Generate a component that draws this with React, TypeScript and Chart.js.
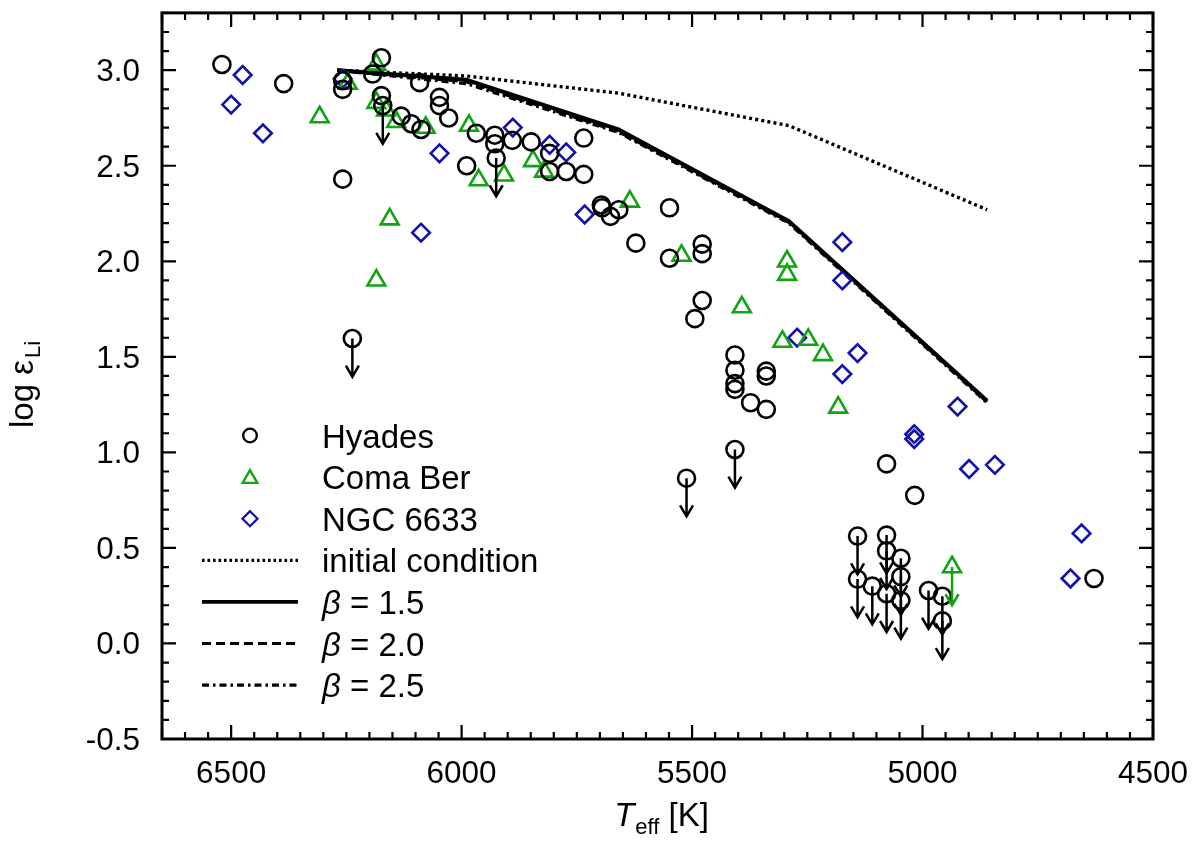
import { useEffect, useRef } from "react";
import { Chart, registerables } from "chart.js";
import type { ChartConfiguration, Plugin } from "chart.js";

Chart.register(...registerables);

const FONT = '"Liberation Sans", Arial, Helvetica, sans-serif';
const GREEN = "#12a312";
const BLUE = "#1212a8";

// [Teff, log eps(Li)]
const hyades: [number, number][] = [
  [6520, 3.03], [6386, 2.93], [6258, 2.945], [6258, 2.9], [6258, 2.43],
  [6193, 2.98], [6174, 3.065], [6174, 2.867], [6131, 2.76], [6109, 2.72],
  [6088, 2.69], [6091, 2.935], [6048, 2.858], [6048, 2.815], [6028, 2.75],
  [5989, 2.5], [5968, 2.67], [5928, 2.66], [5928, 2.615], [5890, 2.633],
  [5849, 2.625], [5809, 2.565], [5809, 2.47], [5773, 2.47], [5735, 2.645],
  [5735, 2.455], [5697, 2.295], [5695, 2.28], [5677, 2.235], [5659, 2.27],
  [5622, 2.095], [5549, 2.28], [5549, 2.016], [5478, 2.09], [5478, 2.04],
  [5478, 1.795], [5494, 1.7], [5407, 1.51], [5407, 1.43], [5407, 1.36],
  [5407, 1.33], [5373, 1.26], [5339, 1.425], [5339, 1.4], [5339, 1.225],
  [5078, 0.94], [5017, 0.775], [4628, 0.34],
];

// upper limits (drawn with a down arrow)
const hyadesUpper: [number, number][] = [
  [6171, 2.815], [5925, 2.54], [6237, 1.596], [5512, 0.865], [5407, 1.015],
  [5141, 0.562], [5141, 0.337], [5109, 0.3], [5078, 0.567], [5078, 0.485],
  [5078, 0.26], [5047, 0.446], [5047, 0.35], [5047, 0.225], [4987, 0.277],
  [4957, 0.247], [4957, 0.118],
];

const comaBer: [number, number][] = [
  [6185, 3.03], [6247, 2.93], [6308, 2.755], [6185, 2.83], [6164, 2.79],
  [6142, 2.73], [6078, 2.7], [5984, 2.71], [5963, 2.425], [5908, 2.45],
  [5845, 2.525], [5821, 2.47], [5635, 2.313], [6156, 2.22], [6185, 1.9],
  [5523, 2.03], [5294, 2.0], [5294, 1.93], [5392, 1.76], [5304, 1.58],
  [5248, 1.59], [5216, 1.51], [5183, 1.235],
];

const comaBerUpper: [number, number][] = [[4936, 0.4]];

const ngc6633: [number, number][] = [
  [6475, 2.975], [6500, 2.82], [6431, 2.67], [6258, 2.955], [6048, 2.565],
  [6088, 2.15], [5889, 2.7], [5809, 2.61], [5773, 2.57], [5733, 2.245],
  [5174, 2.1], [5174, 1.9], [5272, 1.6], [5141, 1.52], [5174, 1.41],
  [5018, 1.095], [5018, 1.07], [4924, 1.24], [4899, 0.913], [4843, 0.935],
  [4655, 0.576], [4679, 0.34],
];

// model curves
const modelTeff = [6270, 5990, 5660, 5290, 4860];
const initialLi = [3.0, 2.97, 2.88, 2.71, 2.27];
const beta15Li = [3.0, 2.95, 2.69, 2.21, 1.27];
const beta20Li = [3.0, 2.94, 2.68, 2.205, 1.265];
const beta25Li = [3.0, 2.93, 2.675, 2.2, 1.26];

const xTickValues = [6500, 6000, 5500, 5000, 4500];
const yTickValues = [-0.5, 0, 0.5, 1, 1.5, 2, 2.5, 3];
const legendLabels = ["Hyades", "Coma Ber", "NGC 6633", "initial condition", "β = 1.5", "β = 2.0", "β = 2.5"];

const ARROW_LEN = 0.2;

function drawText(
  ctx: CanvasRenderingContext2D,
  text: string,
  x: number,
  y: number,
  size: number,
  align: CanvasTextAlign,
  style = "",
) {
  ctx.save();
  ctx.font = `${style} ${size}px ${FONT}`;
  ctx.textAlign = align;
  ctx.textBaseline = "alphabetic";
  ctx.fillText(text, x, y);
  ctx.restore();
}

function textWidth(ctx: CanvasRenderingContext2D, text: string, size: number, style = "") {
  ctx.save();
  ctx.font = `${style} ${size}px ${FONT}`;
  const w = ctx.measureText(text).width;
  ctx.restore();
  return w;
}

function marker(ctx: CanvasRenderingContext2D, kind: string, x: number, y: number, r: number) {
  ctx.beginPath();
  if (kind === "circle") {
    ctx.arc(x, y, r, 0, Math.PI * 2);
  } else if (kind === "triangle") {
    for (let i = 0; i < 3; i++) {
      const a = (i * 2 * Math.PI) / 3;
      const px = x + Math.sin(a) * r;
      const py = y - Math.cos(a) * r;
      if (i === 0) ctx.moveTo(px, py);
      else ctx.lineTo(px, py);
    }
    ctx.closePath();
  } else {
    ctx.moveTo(x, y - r);
    ctx.lineTo(x + r, y);
    ctx.lineTo(x, y + r);
    ctx.lineTo(x - r, y);
    ctx.closePath();
  }
  ctx.stroke();
}

const decorPlugin: Plugin<"scatter"> = {
  id: "decor",
  beforeDraw(chart) {
    const { ctx, width, height } = chart;
    ctx.save();
    ctx.fillStyle = "#fff";
    ctx.fillRect(0, 0, width, height);
    ctx.restore();
  },
  afterDatasetsDraw(chart) {
    const { ctx, scales } = chart;
    const xs = scales.x;
    const ys = scales.y;
    const arrow = (t: number, v: number, color: string) => {
      const px = xs.getPixelForValue(t);
      const p0 = ys.getPixelForValue(v);
      const p1 = ys.getPixelForValue(v - ARROW_LEN);
      ctx.beginPath();
      ctx.moveTo(px, p0);
      ctx.lineTo(px, p1);
      ctx.moveTo(px - 6.5, p1 - 11);
      ctx.lineTo(px, p1);
      ctx.lineTo(px + 6.5, p1 - 11);
      ctx.strokeStyle = color;
      ctx.stroke();
    };
    ctx.save();
    ctx.lineWidth = 2.5;
    ctx.lineCap = "butt";
    hyadesUpper.forEach(([t, v]) => arrow(t, v, "#000"));
    comaBerUpper.forEach(([t, v]) => arrow(t, v, GREEN));
    ctx.restore();
  },
  afterDraw(chart) {
    const { ctx, chartArea: a, scales } = chart;
    const xs = scales.x;
    const ys = scales.y;
    ctx.save();
    ctx.fillStyle = "#000";
    ctx.strokeStyle = "#000";

    // frame
    ctx.lineWidth = 3;
    ctx.strokeRect(a.left, a.top, a.right - a.left, a.bottom - a.top);

    // inward ticks on all sides
    ctx.lineWidth = 2.2;
    ctx.beginPath();
    for (let i = 90; i <= 133; i++) {
      const t = i * 50;
      const px = xs.getPixelForValue(t);
      const len = t % 500 === 0 ? 14 : 7;
      ctx.moveTo(px, a.bottom);
      ctx.lineTo(px, a.bottom - len);
      ctx.moveTo(px, a.top);
      ctx.lineTo(px, a.top + len);
    }
    for (let i = -5; i <= 33; i++) {
      const py = ys.getPixelForValue(i / 10);
      const len = i % 5 === 0 ? 14 : 7;
      ctx.moveTo(a.left, py);
      ctx.lineTo(a.left + len, py);
      ctx.moveTo(a.right, py);
      ctx.lineTo(a.right - len, py);
    }
    ctx.stroke();

    // tick labels
    xTickValues.forEach((t) => {
      drawText(ctx, String(t), xs.getPixelForValue(t), a.bottom + 44, 31.5, "center");
    });
    yTickValues.forEach((v) => {
      drawText(ctx, v.toFixed(1), a.left - 22, ys.getPixelForValue(v) + 11, 31.5, "right");
    });

    // x title: T_eff [K]
    {
      const s = 33;
      const wT = textWidth(ctx, "T", s, "italic");
      const wE = textWidth(ctx, "eff", 22);
      const wK = textWidth(ctx, " [K]", s);
      let x0 = 661 - (wT + wE + wK) / 2;
      const base = 826;
      drawText(ctx, "T", x0, base, s, "left", "italic");
      x0 += wT + 1;
      drawText(ctx, "eff", x0, base + 8, 22, "left");
      x0 += wE;
      drawText(ctx, " [K]", x0, base, s, "left");
    }

    // y title: log eps_Li (rotated)
    {
      ctx.save();
      ctx.translate(33, 428);
      ctx.rotate(-Math.PI / 2);
      const w = textWidth(ctx, "log ε", 33);
      drawText(ctx, "log ε", 0, 0, 33, "left");
      drawText(ctx, "Li", w + 2, 7, 22, "left");
      ctx.restore();
    }

    // legend
    const rowY0 = 435.5;
    const rowDy = 41.6;
    const x1 = 202;
    const x2 = 298;
    const xm = 250;
    const textX = 322;
    legendLabels.forEach((label, i) => {
      const y = rowY0 + i * rowDy;
      ctx.save();
      ctx.lineWidth = 2.3;
      if (i === 0) {
        ctx.strokeStyle = "#000";
        marker(ctx, "circle", xm, y, 6.8);
      } else if (i === 1) {
        ctx.strokeStyle = GREEN;
        marker(ctx, "triangle", xm, y + 1.5, 8.5);
      } else if (i === 2) {
        ctx.strokeStyle = BLUE;
        marker(ctx, "diamond", xm, y, 7.5);
      } else {
        ctx.strokeStyle = "#000";
        ctx.lineWidth = i === 4 ? 3.8 : 3.2;
        const dashes = [[2.6, 2.9], [], [9, 5], [7, 4, 2.5, 4]][i - 3];
        ctx.setLineDash(dashes);
        ctx.beginPath();
        ctx.moveTo(x1, y);
        ctx.lineTo(x2, y);
        ctx.stroke();
      }
      ctx.restore();
      const base = y + 12;
      if (label.startsWith("β")) {
        const wb = textWidth(ctx, "β", 33, "italic");
        drawText(ctx, "β", textX, base, 33, "left", "italic");
        drawText(ctx, label.slice(1), textX + wb, base, 33, "left");
      } else {
        drawText(ctx, label, textX, base, 33, "left");
      }
    });
    ctx.restore();
  },
};

export default function App() {
  const canvasRef = useRef<HTMLCanvasElement | null>(null);

  useEffect(() => {
    document.body.style.margin = "0";
    if (!canvasRef.current) return;
    const ctx = canvasRef.current.getContext("2d");
    if (!ctx) return;

    const pts = (list: [number, number][]) => list.map(([x, y]) => ({ x, y }));
    const curve = (vals: number[]) => modelTeff.map((t, i) => ({ x: t, y: vals[i] }));
    const lineSet = (label: string, vals: number[], dash: number[], width: number) => ({
      label,
      data: curve(vals),
      showLine: true,
      borderColor: "#000",
      borderWidth: width,
      borderDash: dash,
      borderCapStyle: "butt" as const,
      pointRadius: 0,
      fill: false,
    });

    const config: ChartConfiguration<"scatter"> = {
      type: "scatter",
      data: {
        datasets: [
          {
            label: "Hyades",
            data: pts([...hyades, ...hyadesUpper]),
            pointStyle: "circle",
            pointRadius: 8.5,
            pointBorderWidth: 2.6,
            pointBorderColor: "#000",
            pointBackgroundColor: "rgba(0,0,0,0)",
          },
          {
            label: "Coma Ber",
            data: pts([...comaBer, ...comaBerUpper]),
            pointStyle: "triangle",
            pointRadius: 10.3,
            pointBorderWidth: 2.6,
            pointBorderColor: GREEN,
            pointBackgroundColor: "rgba(0,0,0,0)",
          },
          {
            label: "NGC 6633",
            data: pts(ngc6633),
            pointStyle: "rectRot",
            pointRadius: 8.8,
            pointBorderWidth: 2.6,
            pointBorderColor: BLUE,
            pointBackgroundColor: "rgba(0,0,0,0)",
          },
          lineSet("initial condition", initialLi, [3, 3.2], 3.4),
          lineSet("β = 1.5", beta15Li, [], 4),
          lineSet("β = 2.0", beta20Li, [9, 5], 3.4),
          lineSet("β = 2.5", beta25Li, [7, 4, 2.5, 4], 3.4),
        ] as any,
      },
      options: {
        animation: false,
        responsive: true,
        maintainAspectRatio: false,
        events: [],
        layout: { padding: { left: 162, top: 7, right: 47, bottom: 106 } },
        scales: {
          x: { type: "linear", min: 4500, max: 6650, reverse: true, display: false },
          y: { type: "linear", min: -0.5, max: 3.3, display: false },
        },
        plugins: {
          legend: { display: false },
          tooltip: { enabled: false },
        },
      },
      plugins: [decorPlugin],
    };

    const chart = new Chart(ctx, config);
    return () => {
      chart.destroy();
    };
  }, []);

  return (
    <div style={{ width: 1200, height: 845, position: "relative", background: "#fff" }}>
      <canvas ref={canvasRef}></canvas>
    </div>
  );
}
